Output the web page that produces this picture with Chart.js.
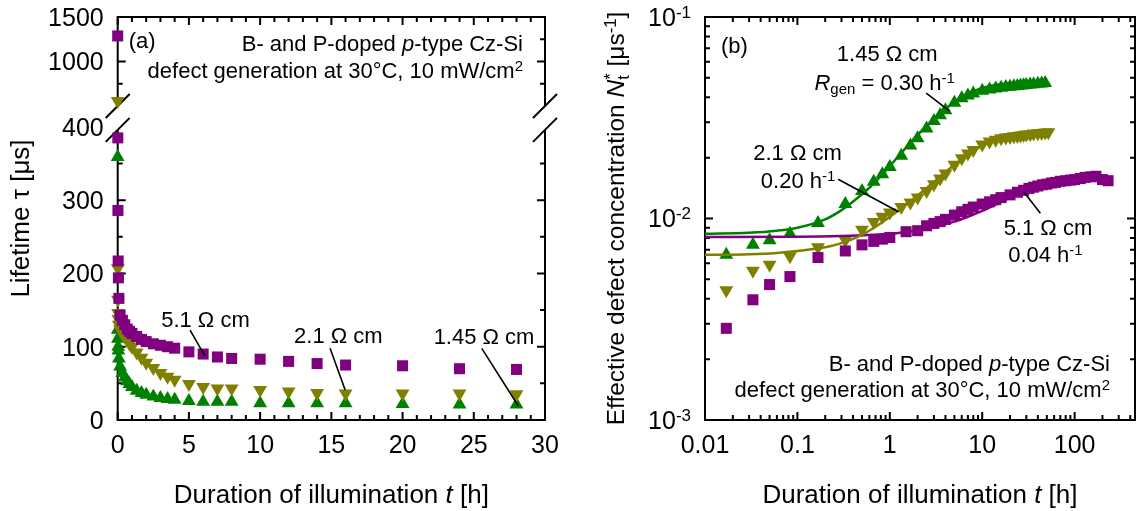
<!DOCTYPE html>
<html lang="en">
<head>
<meta charset="UTF-8">
<title>Lifetime and defect generation</title>
<script src="https://cdn.jsdelivr.net/npm/chart.js"></script>
<style>
  html, body { margin: 0; padding: 0; background: #fff; }
  #wrap { position: relative; width: 1139px; height: 511px; }
  #wrap canvas { position: absolute; top: 0; }
  #lifetimeChart { left: 0; }
  #defectChart { left: 570px; }
</style>
</head>
<body>
<div id="wrap">
  <canvas id="lifetimeChart" width="570" height="511"></canvas>
  <canvas id="defectChart" width="569" height="511"></canvas>
</div>
<script>
// ---- (a) lifetime vs. illumination time [h] / [us] ----
const tLife  = [0, 0.008, 0.017, 0.033, 0.05, 0.083, 0.167, 0.33, 0.5, 0.67, 0.83, 1, 1.33, 1.67, 2, 2.5, 3, 3.5, 4, 5, 6, 7, 8, 10, 12, 14, 16, 20, 24, 28];
const tau51  = [1287, 385, 286, 217, 194, 166, 143, 136, 130, 124, 121, 118, 114, 110, 107, 104, 102, 100, 98, 93, 90, 86, 84, 83, 80, 77, 75, 74, 70, 69];
const tau21  = [555, 207, 164, 146, 138, 130, 124, 118, 114, 109, 104, 100, 92, 85, 78, 71, 64, 59, 55, 49, 45, 43, 43, 41, 39, 37, 36, 36, 36, 35];
const tau145 = [359, 123, 111, 100, 95, 84, 73, 64, 58, 53, 49, 45, 40, 37, 34.5, 32, 30, 28.5, 27.5, 26, 25, 25, 25, 23, 23, 23, 23, 22, 21, 21];

// ---- (b) effective defect concentration [1/us] ----
const tN51  = [0.017, 0.033, 0.05, 0.083, 0.167, 0.33, 0.5, 0.67, 0.83, 1, 1.5, 2, 2.5, 3, 3.5, 4, 5, 6, 7, 8, 10, 12, 14, 16, 20, 24, 28, 32, 36, 40, 45, 50, 56, 62, 70, 80, 90, 100, 115, 130, 150, 170, 200, 230];
const nt51  = [2.85e-3, 3.95e-3, 4.7e-3, 5.15e-3, 6.4e-3, 6.9e-3, 7.4e-3, 7.7e-3, 7.9e-3, 8.05e-3,
               8.6e-3, 8.7e-3, 9.2e-3, 9.45e-3, 9.65e-3, 9.9e-3, 1.04e-2, 1.08e-2, 1.11e-2, 1.14e-2,
               1.18e-2, 1.21e-2, 1.24e-2, 1.27e-2, 1.31e-2, 1.35e-2, 1.38e-2, 1.41e-2, 1.43e-2, 1.45e-2,
               1.47e-2, 1.48e-2, 1.5e-2, 1.51e-2, 1.53e-2, 1.54e-2, 1.55e-2, 1.56e-2, 1.58e-2, 1.6e-2,
               1.61e-2, 1.62e-2, 1.56e-2, 1.54e-2];
const tN21  = [0.017, 0.033, 0.05, 0.083, 0.167, 0.33, 0.5, 0.67, 0.83, 1, 1.33, 1.67, 2, 2.5, 3, 3.5, 4, 5, 6, 7, 8, 10, 12, 14, 16, 18, 20, 22, 24, 26, 28, 30, 33, 36, 40, 44, 48, 52];
const nt21  = [4.4e-3, 5.5e-3, 5.9e-3, 6.5e-3, 7.2e-3, 7.8e-3, 8.8e-3, 9.6e-3, 1.02e-2, 1.07e-2,
               1.14e-2, 1.2e-2, 1.27e-2, 1.37e-2, 1.48e-2, 1.58e-2, 1.67e-2, 1.85e-2, 1.99e-2, 2.1e-2,
               2.19e-2, 2.33e-2, 2.41e-2, 2.46e-2, 2.5e-2, 2.52e-2, 2.54e-2, 2.56e-2, 2.57e-2, 2.58e-2,
               2.6e-2, 2.61e-2, 2.62e-2, 2.64e-2, 2.65e-2, 2.66e-2, 2.67e-2, 2.68e-2];
const tN145 = [0.017, 0.033, 0.05, 0.083, 0.167, 0.33, 0.5, 0.67, 0.83, 1, 1.33, 1.67, 2, 2.5, 3, 3.5, 4, 5, 6, 7, 8, 10, 12, 14, 16, 18, 20, 22, 24, 26, 28, 30, 33, 36, 40, 44, 48];
const nt145 = [6.6e-3, 7.4e-3, 7.8e-3, 8.4e-3, 9.5e-3, 1.18e-2, 1.37e-2, 1.52e-2, 1.66e-2, 1.8e-2,
               2.05e-2, 2.3e-2, 2.5e-2, 2.8e-2, 3.05e-2, 3.25e-2, 3.45e-2, 3.75e-2, 3.95e-2, 4.08e-2,
               4.17e-2, 4.3e-2, 4.37e-2, 4.42e-2, 4.46e-2, 4.49e-2, 4.51e-2, 4.53e-2, 4.55e-2, 4.57e-2,
               4.58e-2, 4.6e-2, 4.62e-2, 4.64e-2, 4.66e-2, 4.68e-2, 4.7e-2];

// fitted generation curves
const fitT51  = [0.01, 0.1, 0.3, 0.5, 1, 2, 3, 5, 7, 10, 15, 20, 30, 50, 70, 100, 150, 230];
const fitN51  = [8.1e-3, 8.12e-3, 8.18e-3, 8.25e-3, 8.4e-3, 8.75e-3, 9.05e-3, 9.65e-3, 1.02e-2, 1.09e-2, 1.19e-2, 1.27e-2, 1.38e-2, 1.5e-2, 1.55e-2, 1.58e-2, 1.6e-2, 1.61e-2];
const fitT21  = [0.01, 0.03, 0.06, 0.1, 0.2, 0.3, 0.5, 0.7, 1, 1.5, 2, 3, 4, 5, 7, 10, 15, 20, 30, 50];
const fitN21  = [6.6e-3, 6.65e-3, 6.75e-3, 6.9e-3, 7.2e-3, 7.55e-3, 8.3e-3, 9.1e-3, 1.02e-2, 1.17e-2, 1.3e-2, 1.52e-2, 1.7e-2, 1.85e-2, 2.08e-2, 2.3e-2, 2.5e-2, 2.6e-2, 2.66e-2, 2.68e-2];
const fitT145 = [0.01, 0.03, 0.06, 0.1, 0.2, 0.3, 0.5, 0.7, 1, 1.5, 2, 3, 4, 5, 7, 10, 15, 20, 30, 50];
const fitN145 = [8.4e-3, 8.5e-3, 8.7e-3, 9.0e-3, 9.9e-3, 1.1e-2, 1.32e-2, 1.52e-2, 1.82e-2, 2.25e-2, 2.6e-2, 3.12e-2, 3.5e-2, 3.78e-2, 4.15e-2, 4.45e-2, 4.62e-2, 4.68e-2, 4.71e-2, 4.72e-2];

// tick values / labels
const ticksXA    = [0, 5, 10, 15, 20, 25, 30];
const ticksLowA  = [0, 100, 200, 300, 400];
const ticksHighA = [1000, 1500];
const ticksXB    = [0.01, 0.1, 1, 10, 100];
const labelsXB   = ['0.01', '0.1', '1', '10', '100'];
const ticksYB    = [1e-3, 1e-2, 1e-1];
const expYB      = ['-3', '-2', '-1'];

const PURPLE = '#800080', OLIVE = '#808000', GREEN = '#008000';
const FONT = '"Liberation Sans", Arial, Helvetica, sans-serif';
const TICK_PX = 25, NOTE_PX = 22, TITLE_PX = 26;

// broken axis in (a): lower part 0..BREAK_LOW, upper part BREAK_HIGH..1500
const SPLIT = 450, BREAK_LOW = 396, BREAK_HIGH = 500;

const xTitle  = ['Duration of illumination ', { t: 't', i: 1 }, ' [h]'];
const yTitleA = ['Lifetime τ [μs]'];
const yTitleB = ['Effective defect concentration ', { t: 'N', i: 1 }, { t: 't', sub: 1, hold: 1 }, { t: '*', sup: 1 }, ' [μs', { t: '-1', sup: 1 }, ']'];
const note1   = ['B- and P-doped ', { t: 'p', i: 1 }, '-type Cz-Si'];
const note2   = ['defect generation at 30°C, 10 mW/cm', { t: '2', sup: 1 }];

function pts(xs, ys) { return xs.map((x, i) => ({ x, y: ys[i] })); }

function markerSet(data, color, shape, axis, order) {
  const down = shape === 'down';
  const r = shape === 'rect' ? 7.8 : 8;
  return {
    data, yAxisID: axis, order, clip: false, showLine: false,
    pointStyle: down ? 'triangle' : shape,
    rotation: down ? 180 : 0,
    pointRadius: r, pointHoverRadius: r,
    pointBackgroundColor: color, pointBorderColor: color, pointBorderWidth: 0
  };
}

function fitSet(data, color) {
  return {
    data, yAxisID: 'y', order: 0, showLine: true, pointRadius: 0,
    borderColor: color, borderWidth: 2.5, cubicInterpolationMode: 'monotone', clip: false
  };
}

// text with italic / sub / sup runs
function drawRich(ctx, runs, x, y, size, align) {
  const items = [];
  let w = 0, held = 0;
  for (const r of runs) {
    const seg = typeof r === 'string' ? { t: r } : r;
    const small = seg.sup || seg.sub;
    const fs = small ? size * 0.68 : size;
    const font = (seg.i ? 'italic ' : '') + fs.toFixed(1) + 'px ' + FONT;
    ctx.font = font;
    const sw = ctx.measureText(seg.t).width;
    const dy = seg.sup ? -size * 0.33 : seg.sub ? size * 0.2 : 0;
    items.push({ t: seg.t, font, dx: w, dy });
    if (seg.hold) held = sw;
    else { w += Math.max(sw, held); held = 0; }
  }
  const x0 = align === 'center' ? x - w / 2 : align === 'right' ? x - w : x;
  ctx.textAlign = 'left';
  ctx.textBaseline = 'alphabetic';
  for (const it of items) { ctx.font = it.font; ctx.fillText(it.t, x0 + it.dx, y + it.dy); }
}

function seg(ctx, x1, y1, x2, y2) { ctx.moveTo(x1, y1); ctx.lineTo(x2, y2); }
function tickX(ctx, a, px, len) { seg(ctx, px, a.bottom, px, a.bottom - len); seg(ctx, px, a.top, px, a.top + len); }
function tickY(ctx, a, py, len) { seg(ctx, a.left, py, a.left + len, py); seg(ctx, a.right, py, a.right - len, py); }

function rotatedTitle(ctx, runs, x, y, size) {
  ctx.save();
  ctx.translate(x, y);
  ctx.rotate(-Math.PI / 2);
  drawRich(ctx, runs, 0, 0, size, 'center');
  ctx.restore();
}

// ---------- panel (a) ----------
const notesA = [
  { runs: ['5.1 Ω cm'],  t: 6.16,  v: 127, from: [5.08, 122.7],  to: [6.13, 87.3] },
  { runs: ['2.1 Ω cm'],  t: 15.49, v: 105, from: [14.91, 97.8], to: [15.97, 40.9] },
  { runs: ['1.45 Ω cm'], t: 25.72, v: 104, from: [25.56, 97.8], to: [28.13, 19.1] }
];

const panelA = {
  id: 'panelA',
  beforeDatasetsDraw(chart) {
    const { ctx, chartArea: a } = chart;
    const { x, y, y2 } = chart.scales;
    const cutHi = y2.getPixelForValue(BREAK_HIGH);
    const cutLo = y.getPixelForValue(BREAK_LOW);
    ctx.save();
    ctx.strokeStyle = '#000';
    ctx.lineWidth = 2;
    ctx.lineJoin = 'miter';
    ctx.beginPath();
    ctx.moveTo(a.left, cutHi); ctx.lineTo(a.left, a.top); ctx.lineTo(a.right, a.top); ctx.lineTo(a.right, cutHi);
    ctx.moveTo(a.left, cutLo); ctx.lineTo(a.left, a.bottom); ctx.lineTo(a.right, a.bottom); ctx.lineTo(a.right, cutLo);
    ctx.stroke();

    ctx.beginPath();
    for (let h = 0; h <= 30; h++) tickX(ctx, a, x.getPixelForValue(h), h % 5 === 0 ? 8 : 5);
    for (let v = 0; v < 400; v += 50) tickY(ctx, a, y.getPixelForValue(v), v % 100 === 0 ? 8 : 5);
    for (let v = 750; v <= 1500; v += 250) tickY(ctx, a, y2.getPixelForValue(v), v % 500 === 0 ? 8 : 5);
    // break marks on both side axes
    for (const bx of [a.left, a.right]) {
      for (const by of [cutHi, cutLo]) seg(ctx, bx - 12, by + 12, bx + 12, by - 12);
    }
    ctx.stroke();
    ctx.restore();
  },
  afterDraw(chart) {
    const { ctx, chartArea: a } = chart;
    const { x, y, y2 } = chart.scales;
    ctx.save();
    ctx.fillStyle = '#000';
    ticksXA.forEach(v => drawRich(ctx, [String(v)], x.getPixelForValue(v), a.bottom + 33, TICK_PX, 'center'));
    ticksLowA.forEach(v => drawRich(ctx, [String(v)], a.left - 14, y.getPixelForValue(v) + 8.8, TICK_PX, 'right'));
    ticksHighA.forEach(v => drawRich(ctx, [String(v)], a.left - 14, y2.getPixelForValue(v) + 8.8, TICK_PX, 'right'));

    drawRich(ctx, xTitle, (a.left + a.right) / 2, 503, TITLE_PX, 'center');
    rotatedTitle(ctx, yTitleA, 29, (a.top + a.bottom) / 2, TITLE_PX);

    drawRich(ctx, ['(a)'], a.left + 11, a.top + 31, NOTE_PX, 'left');
    drawRich(ctx, note1, a.right - 22, a.top + 34, NOTE_PX, 'right');
    drawRich(ctx, note2, a.right - 22, a.top + 61, NOTE_PX, 'right');

    ctx.strokeStyle = '#000';
    ctx.lineWidth = 1.6;
    ctx.beginPath();
    notesA.forEach(n => {
      drawRich(ctx, n.runs, x.getPixelForValue(n.t), y.getPixelForValue(n.v), NOTE_PX, 'center');
      seg(ctx, x.getPixelForValue(n.from[0]), y.getPixelForValue(n.from[1]),
               x.getPixelForValue(n.to[0]), y.getPixelForValue(n.to[1]));
    });
    ctx.stroke();
    ctx.restore();
  }
};

const lowA = (xs, ys) => pts(xs, ys).filter(p => p.y < SPLIT);
const highA = (xs, ys) => pts(xs, ys).filter(p => p.y >= SPLIT);

new Chart(document.getElementById('lifetimeChart'), {
  type: 'scatter',
  data: {
    datasets: [
      markerSet(lowA(tLife, tau51), PURPLE, 'rect', 'y', 1),
      markerSet(highA(tLife, tau51), PURPLE, 'rect', 'y2', 1),
      markerSet(lowA(tLife, tau21), OLIVE, 'down', 'y', 2),
      markerSet(highA(tLife, tau21), OLIVE, 'down', 'y2', 2),
      markerSet(lowA(tLife, tau145), GREEN, 'triangle', 'y', 3),
      markerSet(highA(tLife, tau145), GREEN, 'triangle', 'y2', 3)
    ]
  },
  options: {
    responsive: false,
    animation: false,
    devicePixelRatio: 1,
    events: [],
    layout: { padding: { left: 117.7, right: 25, top: 17, bottom: 91 }, autoPadding: false },
    plugins: { legend: { display: false }, tooltip: { enabled: false } },
    scales: {
      x:  { type: 'linear', min: 0, max: 30, display: false },
      y:  { type: 'linear', min: 0, max: 550, display: false },
      y2: { type: 'linear', min: -3030, max: 1500, display: false }
    }
  },
  plugins: [panelA]
});

// ---------- panel (b) ----------
const notesB = [
  { runs: ['1.45 Ω cm'], t: 0.937, n: 0.0605 },
  { runs: [{ t: 'R', i: 1 }, { t: 'gen', sub: 1 }, ' = 0.30 h', { t: '-1', sup: 1 }], t: 0.88, n: 0.0434 },
  { runs: ['2.1 Ω cm'], t: 0.1002, n: 0.0195 },
  { runs: ['0.20 h', { t: '-1', sup: 1 }], t: 0.1017, n: 0.01417 },
  { runs: ['5.1 Ω cm'], t: 51.4, n: 0.00828 },
  { runs: ['0.04 h', { t: '-1', sup: 1 }], t: 48.3, n: 0.00608 }
];
const leadersB = [
  [[2.48, 0.0419], [4.40, 0.0342]],
  [[0.276, 0.01565], [1.242, 0.0108]],
  [[28.1, 0.01358], [42.6, 0.01061]]
];

const panelB = {
  id: 'panelB',
  beforeDatasetsDraw(chart) {
    const { ctx, chartArea: a } = chart;
    const { x, y } = chart.scales;
    ctx.save();
    ctx.strokeStyle = '#000';
    ctx.lineWidth = 2;
    ctx.strokeRect(a.left, a.top, a.right - a.left, a.bottom - a.top);
    ctx.beginPath();
    for (let d = -2; d <= 2; d++) {
      for (let k = 1; k <= 9; k++) {
        const v = k * Math.pow(10, d);
        if (v <= x.max) tickX(ctx, a, x.getPixelForValue(v), k === 1 ? 8 : 5);
      }
    }
    for (let d = -3; d <= -1; d++) {
      for (let k = 1; k <= 9; k++) {
        const v = k * Math.pow(10, d);
        if (v <= y.max * 1.0001) tickY(ctx, a, y.getPixelForValue(v), k === 1 ? 8 : 5);
      }
    }
    ctx.stroke();
    ctx.restore();
  },
  afterDraw(chart) {
    const { ctx, chartArea: a } = chart;
    const { x, y } = chart.scales;
    ctx.save();
    ctx.fillStyle = '#000';
    ticksXB.forEach((v, i) => drawRich(ctx, [labelsXB[i]], x.getPixelForValue(v), a.bottom + 33, TICK_PX, 'center'));
    ticksYB.forEach((v, i) => drawRich(ctx, ['10', { t: expYB[i], sup: 1 }], a.left - 14, y.getPixelForValue(v) + 8.8, TICK_PX, 'right'));

    drawRich(ctx, xTitle, (a.left + a.right) / 2, 503, TITLE_PX, 'center');
    rotatedTitle(ctx, yTitleB, 54, (a.top + a.bottom) / 2, 24.5);

    drawRich(ctx, ['(b)'], a.left + 16, a.top + 36, NOTE_PX, 'left');
    drawRich(ctx, note1, a.right - 25, a.bottom - 49, NOTE_PX, 'right');
    drawRich(ctx, note2, a.right - 25, a.bottom - 23, NOTE_PX, 'right');
    notesB.forEach(n => drawRich(ctx, n.runs, x.getPixelForValue(n.t), y.getPixelForValue(n.n), NOTE_PX, 'center'));

    ctx.strokeStyle = '#000';
    ctx.lineWidth = 1.6;
    ctx.beginPath();
    leadersB.forEach(([p, q]) => seg(ctx, x.getPixelForValue(p[0]), y.getPixelForValue(p[1]),
                                          x.getPixelForValue(q[0]), y.getPixelForValue(q[1])));
    ctx.stroke();
    ctx.restore();
  }
};

new Chart(document.getElementById('defectChart'), {
  type: 'scatter',
  data: {
    datasets: [
      fitSet(pts(fitT145, fitN145), GREEN),
      fitSet(pts(fitT21, fitN21), OLIVE),
      fitSet(pts(fitT51, fitN51), PURPLE),
      markerSet(pts(tN51, nt51), PURPLE, 'rect', 'y', 1),
      markerSet(pts(tN21, nt21), OLIVE, 'down', 'y', 2),
      markerSet(pts(tN145, nt145), GREEN, 'triangle', 'y', 3)
    ]
  },
  options: {
    responsive: false,
    animation: false,
    devicePixelRatio: 1,
    events: [],
    layout: { padding: { left: 135, right: 4, top: 17, bottom: 91 }, autoPadding: false },
    plugins: { legend: { display: false }, tooltip: { enabled: false } },
    scales: {
      x: { type: 'logarithmic', min: 0.01, max: 450, display: false },
      y: { type: 'logarithmic', min: 1e-3, max: 1e-1, display: false }
    }
  },
  plugins: [panelB]
});
</script>
</body>
</html>
